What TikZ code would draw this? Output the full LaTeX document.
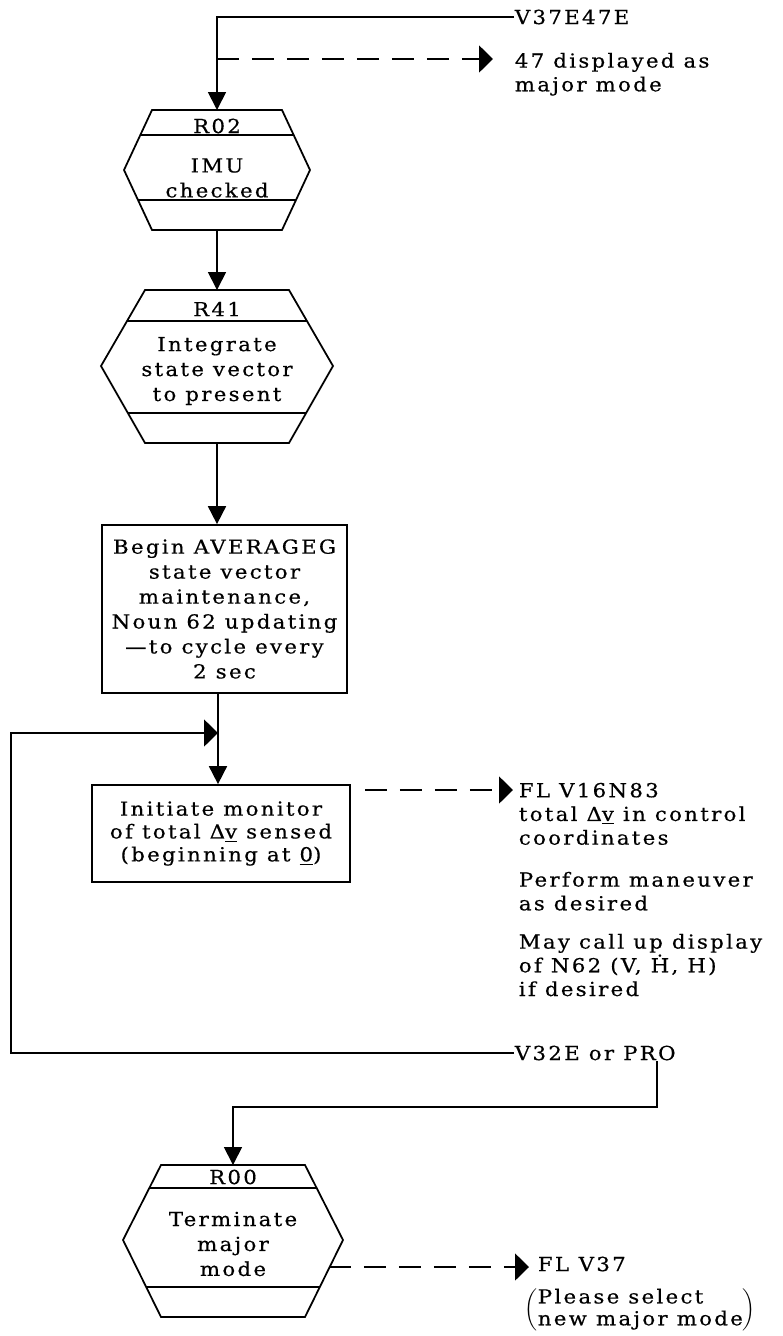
\documentclass[tikz,border=0pt]{standalone}
\usepackage{fontspec}
\setmainfont{DejaVu Serif}[FakeStretch=1.1, LetterSpace=12, FakeBold=0.5]
\usepackage{tikz}
\usetikzlibrary{arrows.meta, calc}

\begin{document}
\begin{tikzpicture}[x=0.02cm, y=-0.02cm, line width=1pt,
		flow/.style={-{Triangle[length=3.6mm, width=3.6mm]}},
		side/.style={-{Triangle[length=2.8mm, width=5.4mm]}},
		cue/.style={dash pattern=on 4.4mm off 2.6mm},
		txt/.style={inner sep=0pt, align=left, font=\fontsize{11}{13.5}\selectfont},
		lbl/.style={inner sep=0pt, align=center, font=\fontsize{11}{14.2}\selectfont},
		box/.style={draw, inner sep=0pt, align=center, font=\fontsize{11}{14.2}\selectfont}]
	\useasboundingbox (0,0) rectangle (783,1336);

	% hexagons: name/centre/top/middle/bottom/half widths/rules
	\foreach \name/\cx/\ty/\my/\by/\tw/\mw/\la/\lb in {
		r02/217/110/170/230/65/93/135/200,
		r41/217/290/366/443/72/116/321/413,
		r00/233/1165/1240/1317/72/110/1188/1287
	}{
		\coordinate (\name-n) at (\cx,\ty);
		\coordinate (\name-s) at (\cx,\by);
		\draw (\cx-\tw,\ty) -- (\cx+\tw,\ty) -- (\cx+\mw,\my) -- (\cx+\tw,\by)
			-- (\cx-\tw,\by) -- (\cx-\mw,\my) -- cycle;
		\draw ({\cx-\tw-(\mw-\tw)*(\la-\ty)/(\my-\ty)},\la) -- ({\cx+\tw+(\mw-\tw)*(\la-\ty)/(\my-\ty)},\la);
		\draw ({\cx-\tw-(\mw-\tw)*(\by-\lb)/(\by-\my)},\lb) -- ({\cx+\tw+(\mw-\tw)*(\by-\lb)/(\by-\my)},\lb);
	}

	\node[lbl] (r02-a) at (217,126) {R02};
	\node[lbl] (r02-b) at (217,178) {IMU\\checked};
	\node[lbl] (r41-a) at (217,309) {R41};
	\node[lbl] (r41-b) at (217,371) {Integrate\\state vector\\to present};
	\node[lbl] (r00-a) at (233,1177) {R00};
	\node[lbl] (r00-b) at (233,1244) {Terminate\\major\\mode};

	\node[box, minimum width=4.9cm, minimum height=3.36cm] (avg) at (224.5,609)
		{Begin AVERAGEG\\state vector\\maintenance,\\Noun 62 updating\\—to cycle every\\2 sec};
	\node[box, minimum width=5.16cm, minimum height=1.94cm, font=\fontsize{11}{13}\selectfont] (mon) at (221,833.5)
		{Initiate monitor\\of total Δ\underline{v} sensed\\(beginning at \underline{0})};

	\node[txt, anchor=west] (v37) at (514,17) {V37E47E};
	\node[txt, anchor=north west] (n47) at (514,52) {47 displayed as\\major mode};
	\node[txt, anchor=north west] (fl16) at (518,782) {FL V16N83\\total Δ\underline{v} in control\\coordinates};
	\node[txt, anchor=north west] (perf) at (518,871) {Perform maneuver\\as desired};
	\node[txt, anchor=north west] (call) at (518,933) {May call up display\\of N62 (V, \.{H}, H)\\if desired};
	\node[txt, anchor=west] (v32) at (514,1053) {V32E or PRO};
	\node[txt, anchor=west] (fl37) at (537,1264) {FL\enspace V37};
	\node[txt, anchor=west] (sel) at (524,1310)
		{\renewcommand\arraystretch{0.92}$\left(\begin{tabular}{@{}l@{}}Please select\\new major mode\end{tabular}\right)$};

	\draw[flow] (v37.west) -| (r02-n);
	\coordinate (d47) at (217,59);
	\draw[cue, side, shorten >=4.2mm] (d47) -- (d47 -| n47.west);
	\draw[flow] (r02-s) -- (r41-n);
	\draw[flow] (r41-s) -- (r41-s |- avg.north);
	\coordinate (j) at (218,733);
	\draw[flow] (avg.south -| j) -- (j |- mon.north);
	\coordinate (lp) at (11,733);
	\draw[side] (v32.west) -| (lp) -- (j);
	\coordinate (m16) at (365,790);
	\draw[cue, side, shorten >=1mm] (m16) -- (m16 -| fl16.west);
	\coordinate (pr) at ($(v32.south west)!0.88!(v32.south east)$);
	\coordinate (k) at (233,1107);
	\draw[flow] (pr) |- (k) -- (r00-n);
	\coordinate (r00-d) at (329,1267);
	\draw[cue, side, shorten >=1.6mm] (r00-d) -- (r00-d -| fl37.west);
\end{tikzpicture}
\end{document}
